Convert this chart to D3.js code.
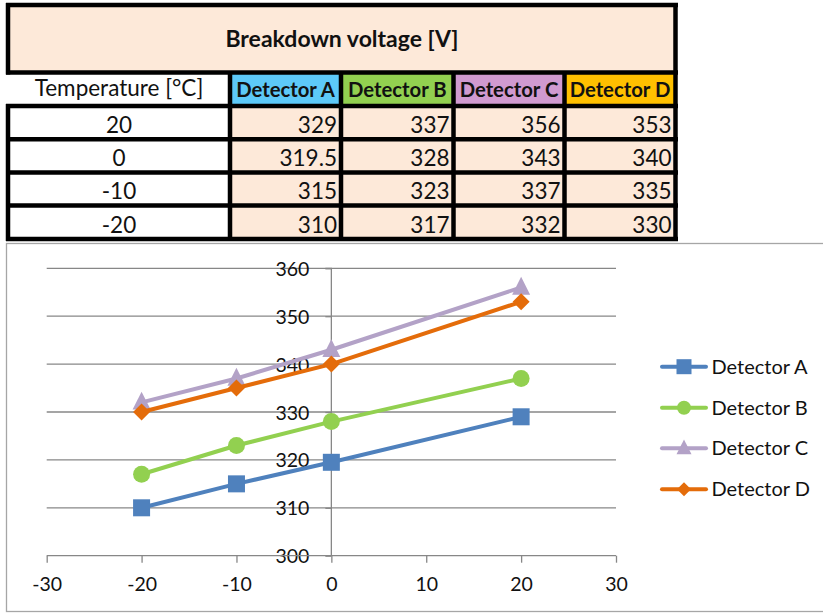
<!DOCTYPE html>
<html><head><meta charset="utf-8">
<script src="https://cdn.jsdelivr.net/npm/d3@7"></script>
<style>body{margin:0;background:#fff}svg{display:block}text{font-family:Lato,"Open Sans",sans-serif}</style>
</head><body><svg id="c" width="823" height="613"></svg>
<script>
const tableTitle = "Breakdown voltage [V]";
const tempHeader = "Temperature [°C]";
const detectors = ["Detector A","Detector B","Detector C","Detector D"];
const headerColors = ["#5DC9F8","#92D050","#D09AD0","#FFC000"];
const temperatures = [20, 0, -10, -20];
const detA = [329, 319.5, 315, 310];
const detB = [337, 328, 323, 317];
const detC = [356, 343, 337, 332];
const detD = [353, 340, 335, 330];
const seriesColors = ["#4F81BD","#92D050","#B3A2C7","#E46C0A"];
const markers = ["square","circle","triangle","diamond"];
const xTicks = [-30,-20,-10,0,10,20,30];
const yTicks = [300,310,320,330,340,350,360];
const seriesVals = [detA, detB, detC, detD];
const fmt = v => String(v);

const svg = d3.select("#c");
const peach = "#FDE9D9";

// ---------- Table ----------
const colEdges = [8, 230, 341, 453.5, 564.5, 675.5];
const rowEdges = [106, 139.2, 172.4, 205.6, 239];
const T = svg.append("g");
T.append("rect").attr("x",8).attr("y",5).attr("width",667.5).attr("height",67.5).attr("fill",peach);
T.append("text").attr("x",342).attr("y",47).attr("text-anchor","middle").attr("font-size",23).attr("font-weight","bold").attr("fill","#111").text(tableTitle);
T.append("text").attr("x",119).attr("y",96).attr("text-anchor","middle").attr("font-size",22.5).attr("fill","#111").text(tempHeader);
detectors.forEach((d,i)=>{
  T.append("rect").attr("x",colEdges[i+1]).attr("y",72.5).attr("width",colEdges[i+2]-colEdges[i+1]).attr("height",33.5).attr("fill",headerColors[i]);
  T.append("text").attr("x",(colEdges[i+1]+colEdges[i+2])/2).attr("y",96.5).attr("text-anchor","middle").attr("font-size",20.3).attr("font-weight","bold").attr("fill","#111").text(d);
});
temperatures.forEach((t,r)=>{
  const y0=rowEdges[r], y1=rowEdges[r+1];
  T.append("rect").attr("x",colEdges[0]).attr("y",y0).attr("width",colEdges[1]-colEdges[0]).attr("height",y1-y0).attr("fill","#fff");
  T.append("text").attr("x",119).attr("y",y1-6.5).attr("text-anchor","middle").attr("font-size",22.5).attr("fill","#111").text(fmt(t));
  seriesVals.forEach((s,i)=>{
    T.append("rect").attr("x",colEdges[i+1]).attr("y",y0).attr("width",colEdges[i+2]-colEdges[i+1]).attr("height",y1-y0).attr("fill",peach);
    T.append("text").attr("x",colEdges[i+2]-4).attr("y",y1-6.5).attr("text-anchor","end").attr("font-size",22.5).attr("fill","#111").text(fmt(s[r]));
  });
});
const line=(x1,y1,x2,y2)=>T.append("line").attr("x1",x1).attr("y1",y1).attr("x2",x2).attr("y2",y2).attr("stroke","#000").attr("stroke-width",4.5);
line(6,5,678,5); line(8,3,8,74.5); line(675.5,3,675.5,241); line(6,72.5,678,72.5);
rowEdges.forEach(y=>line(6,y,678,y));
line(8,104,8,241);
colEdges.slice(1,5).forEach(x=>line(x,72.5,x,241));

// ---------- Chart ----------
svg.append("rect").attr("x",6.5).attr("y",243.5).attr("width",830).attr("height",368).attr("fill","#fff").attr("stroke","#A6A6A6").attr("stroke-width",1.3);

const x = d3.scaleLinear().domain([-30,30]).range([46.7,616]);
const y = d3.scaleLinear().domain([300,360]).range([555.7,268.3]);
const G = svg.append("g");
const gridC = "#878787";
G.selectAll(".grid").data(yTicks.filter(v=>v>300)).enter().append("line")
  .attr("x1",x(-30)).attr("x2",x(30)).attr("y1",d=>y(d)).attr("y2",d=>y(d)).attr("stroke",gridC).attr("stroke-width",1.3);
const yAxis = d3.axisLeft(y).tickValues(yTicks).tickSize(6).tickPadding(16).tickFormat(fmt);
const ya = G.append("g").attr("transform",`translate(${x(0)},0)`).call(yAxis);
ya.select(".domain").attr("stroke",gridC).attr("stroke-width",1.3).attr("d",`M-6,${y(360)}H0V${y(300)}`);
ya.selectAll(".tick line").attr("stroke",gridC).attr("stroke-width",1.3);
ya.selectAll(".tick text").attr("font-size",19.5).attr("fill","#111").attr("font-family","Lato").attr("dy","0.36em");
const xAxis = d3.axisBottom(x).tickValues(xTicks).tickSize(7).tickPadding(14).tickFormat(fmt);
const xa = G.append("g").attr("transform",`translate(0,${y(300)})`).call(xAxis);
xa.select(".domain").attr("stroke",gridC).attr("stroke-width",1.3).attr("d",`M${x(-30)},0H${x(30)}`);
xa.selectAll(".tick line").attr("stroke",gridC).attr("stroke-width",1.3);
xa.selectAll(".tick text").attr("font-size",19.5).attr("fill","#111").attr("font-family","Lato");

function marker(g, type, cx, cy, size, color){
  if(type==="square") g.append("rect").attr("x",cx-size/2).attr("y",cy-size/2).attr("width",size).attr("height",size).attr("fill",color);
  else if(type==="circle") g.append("circle").attr("cx",cx).attr("cy",cy).attr("r",size/2).attr("fill",color);
  else if(type==="triangle"){const h=size*0.95; g.append("path").attr("d",`M${cx},${cy-h*0.62}L${cx+size/2},${cy+h*0.42}L${cx-size/2},${cy+h*0.42}Z`).attr("fill",color);}
  else if(type==="diamond"){const s=size/2; g.append("path").attr("d",`M${cx},${cy-s}L${cx+s},${cy}L${cx},${cy+s}L${cx-s},${cy}Z`).attr("fill",color);}
}
const sizes = {square:17, circle:17, triangle:18, diamond:17};
seriesVals.forEach((vals,i)=>{
  const pts = temperatures.map((t,j)=>[t, vals[j]]).sort((a,b)=>a[0]-b[0]);
  const ln = d3.line().x(d=>x(d[0])).y(d=>y(d[1]));
  G.append("path").attr("d",ln(pts)).attr("fill","none").attr("stroke",seriesColors[i]).attr("stroke-width",4).attr("stroke-linejoin","round").attr("stroke-linecap","round");
  pts.forEach(p=>marker(G, markers[i], x(p[0]), y(p[1]), sizes[markers[i]], seriesColors[i]));
});
const legY = [366.7, 407.7, 448.3, 489.3];
const lsizes = {square:15, circle:14, triangle:15, diamond:14};
detectors.forEach((d,i)=>{
  const L = svg.append("g");
  L.append("line").attr("x1",662).attr("x2",706).attr("y1",legY[i]).attr("y2",legY[i]).attr("stroke",seriesColors[i]).attr("stroke-width",4).attr("stroke-linecap","round");
  marker(L, markers[i], 684, legY[i], lsizes[markers[i]], seriesColors[i]);
  L.append("text").attr("x",711.5).attr("y",legY[i]+7).attr("font-size",20).attr("fill","#111").text(d);
});
</script></body></html>
